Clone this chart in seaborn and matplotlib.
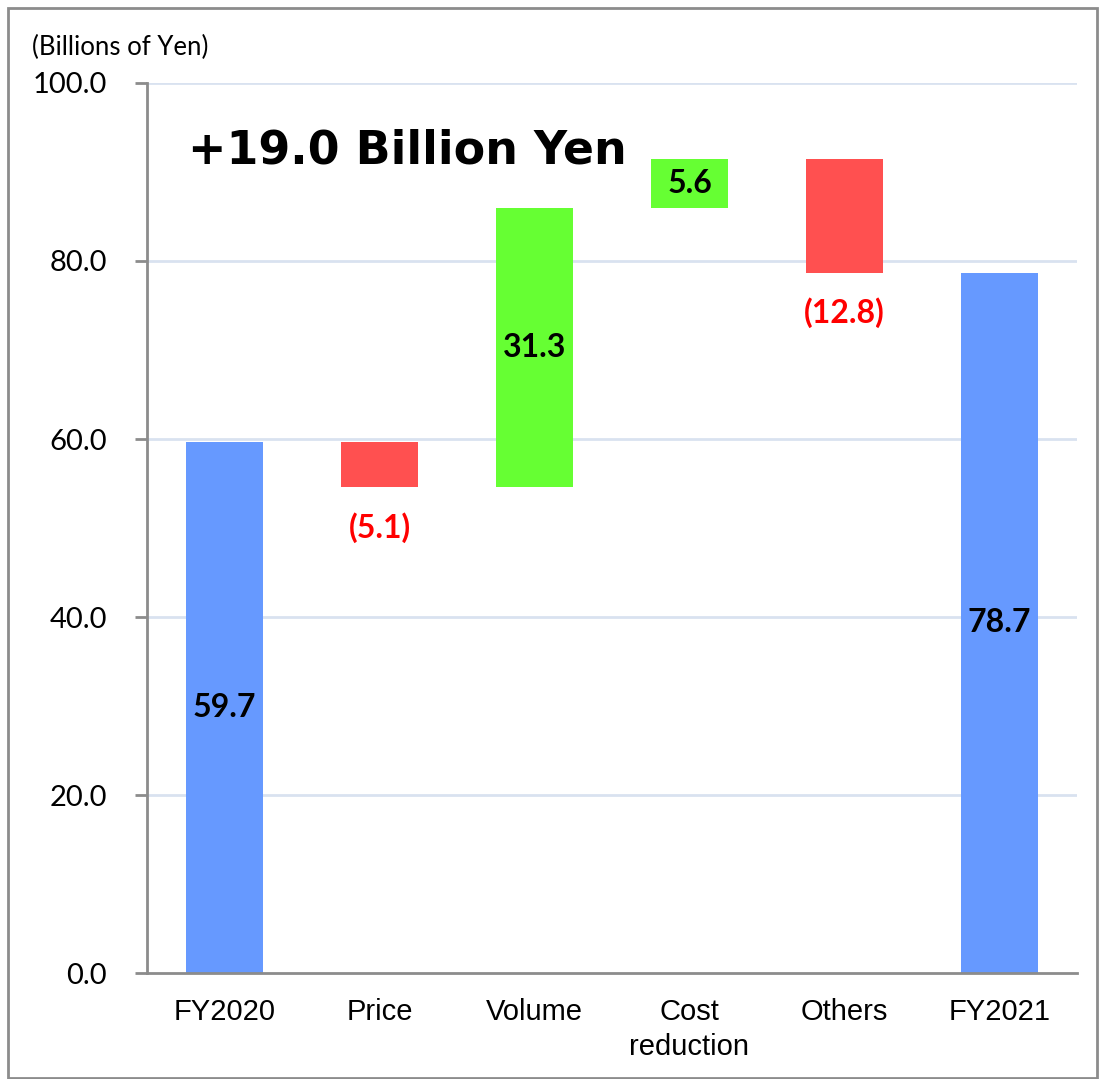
import numpy as np
import pandas as pd
import seaborn as sns
import matplotlib.pyplot as plt
from matplotlib.patches import Rectangle

sns.set_style("white")

categories = ["FY2020", "Price", "Volume", "Cost\nreduction", "Others", "FY2021"]
changes = [59.7, -5.1, 31.3, 5.6, -12.8, 78.7]
kinds = ["total", "delta", "delta", "delta", "delta", "total"]
labels = ["59.7", "(5.1)", "31.3", "5.6", "(12.8)", "78.7"]

# waterfall bottoms
bottoms = []
running = 0.0
for v, k in zip(changes, kinds):
    if k == "total":
        bottoms.append(0.0)
        running = v
    else:
        bottoms.append(running)
        running += v

colors = []
for v, k in zip(changes, kinds):
    if k == "total":
        colors.append("#6699FF")
    elif v < 0:
        colors.append("#FF5050")
    else:
        colors.append("#66FF33")

df = pd.DataFrame(dict(cat=categories, height=changes, bottom=bottoms))

fig = plt.figure(figsize=(11.02, 10.79), dpi=100)
ax = fig.add_axes([0.1334, 0.0982, 0.8439, 0.8249])

sns.barplot(data=df, x="cat", y="height", color="#6699FF",
            bottom=df["bottom"].values, width=0.5, ax=ax,
            saturation=1, linewidth=0)
for p, c in zip(ax.patches, colors):
    p.set_facecolor(c)

ax.set_ylim(0, 100)
ax.set_xlim(-0.5, 5.5)
ax.set_yticks(np.arange(0, 101, 20))
ax.set_yticklabels([f"{t:.1f}" for t in np.arange(0, 101, 20)],
                   fontsize=21, family="Lato", color="black")
ax.set_xticks(range(6))
ax.set_xticklabels(categories, fontsize=21, family="Liberation Sans",
                   linespacing=1.3, color="black")
ax.set_xticks(np.arange(-0.5, 6, 1), minor=True)
ax.tick_params(axis="x", which="major", length=0, pad=18)
ax.tick_params(axis="x", which="minor", length=9, width=2, color="#8C8C8C",
               direction="out")
ax.tick_params(axis="y", length=9, width=2, color="#8C8C8C", pad=20,
               direction="out", left=True)
ax.set(xlabel=None, ylabel=None)

for y in [20, 40, 60, 80, 100]:
    ax.axhline(y, color="#D9E2F0", lw=2, zorder=0)
ax.set_axisbelow(True)

for s in ["top", "right"]:
    ax.spines[s].set_visible(False)
for s in ["left", "bottom"]:
    ax.spines[s].set_color("#8C8C8C")
    ax.spines[s].set_linewidth(2)

# value labels
for i, (v, b, k, t) in enumerate(zip(changes, bottoms, kinds, labels)):
    if v < 0:
        ax.text(i, b + v - 4.5, t, ha="center", va="center", fontsize=23,
                fontweight="bold", color="#FF0000", family="Lato")
    else:
        ax.text(i, b + v / 2, t, ha="center", va="center", fontsize=23,
                fontweight="bold", color="black", family="Lato")

fig.text(188 / 1102, 1 - 151 / 1079, "+19.0 Billion Yen", ha="left",
         va="center", fontsize=33, fontweight="bold", color="black",
         family="DejaVu Sans")
fig.text(32 / 1102, 1 - 47 / 1079, "(Billions of Yen)", ha="left",
         va="center", fontsize=18.5, family="Lato", color="black")

fig.patches.append(Rectangle((8 / 1102, 0.001), 1089 / 1102, 1 - 8 / 1079 - 0.001,
                             transform=fig.transFigure, fill=False,
                             edgecolor="#8C8C8C", lw=2))

fig.savefig("out.png", dpi=100)
